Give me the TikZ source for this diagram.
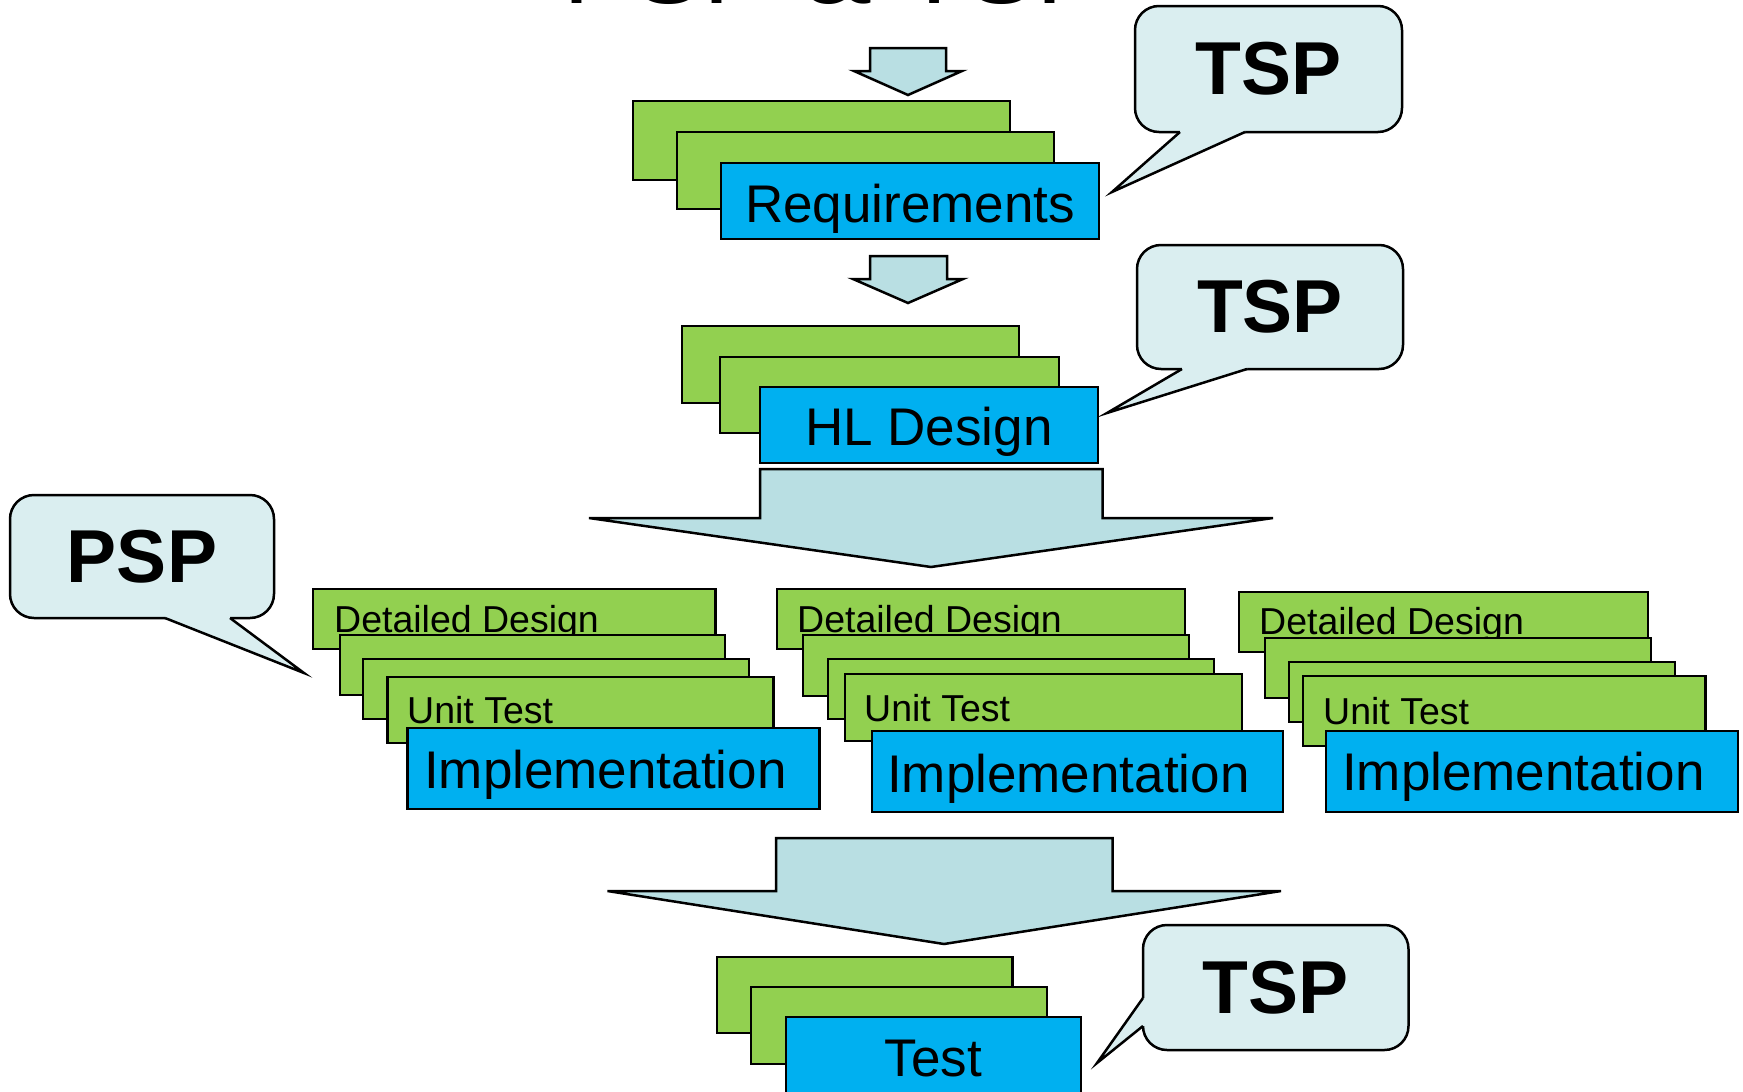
\documentclass[tikz,border=0pt]{standalone}
\usepackage{fontspec}
\setmainfont{Liberation Sans}
\definecolor{grn}{RGB}{146,208,80}
\definecolor{blu}{RGB}{0,176,240}
\definecolor{arr}{RGB}{185,223,227}
\definecolor{cal}{RGB}{218,238,240}
\tikzset{
  gbox/.style={draw=black, fill=grn, line width=2.5pt, inner sep=0pt, outer sep=0pt, anchor=north west},
  bbox/.style={draw=black, fill=blu, line width=2.5pt, inner sep=0pt, outer sep=0pt, anchor=north west},
  bigtxt/.style={inner sep=0pt, font=\fontsize{53}{60}\selectfont},
  smalltxt/.style={anchor=base west, inner sep=0pt, font=\fontsize{37.5}{42}\selectfont},
  blockarrow/.style={draw=black, fill=arr, line width=2.5pt},
  callout/.style={draw=black, fill=cal, line width=2.5pt, rounded corners=24pt, inner sep=0pt, font=\bfseries\fontsize{75}{80}\selectfont},
  tailline/.style={draw=black, line width=2.5pt},
}
% box by corners with centred text on a given baseline: name, x1, y1, x2, y2, baseline, text
\newcommand\bx[7]{\node[bbox, minimum width={(#4-#2)*1pt}, minimum height={(#5-#3)*1pt}] (#1) at (#2,#3) {};
  \node[bigtxt, anchor=base] (#1t) at ({(#2+#4)/2},#6) {#7};}
\newcommand\gbx[5]{\node[gbox, minimum width={(#4-#2)*1pt}, minimum height={(#5-#3)*1pt}] (#1) at (#2,#3) {};}
\newcommand\cbx[6]{\node[callout, minimum width={(#4-#2)*1pt}, minimum height={(#5-#3)*1pt}] (#1) at ({(#2+#4)/2},{(#3+#5)/2}) {#6};}
\begin{document}
\begin{tikzpicture}[x=1pt,y=-1pt]
\useasboundingbox (0,0) rectangle (1743,1092);
\fill[white] (0,0) rectangle (1743,1092);

% title (cut off at the top)
\node[anchor=base, inner sep=0pt, font=\fontsize{105}{110}\selectfont] (title) at (835,4) {PSP \& TSP};

% block arrows
\draw[blockarrow] (870,48) -- (946,48) -- (946,71) -- (962,71) -- (908,95) -- (854,71) -- (870,71) -- cycle;
\draw[blockarrow] (870,256) -- (947,256) -- (947,279) -- (963,279) -- (908,303) -- (853,279) -- (870,279) -- cycle;
\draw[blockarrow] (760,469) -- (1102.5,469) -- (1102.5,518) -- (1273,518) -- (931,567) -- (589,518) -- (760,518) -- cycle;
\draw[blockarrow] (776,838) -- (1112.5,838) -- (1112.5,891) -- (1281,891) -- (944,944) -- (607.5,891) -- (776,891) -- cycle;

% Requirements stack
\gbx{r1}{633}{101}{1010}{180}
\gbx{r2}{677}{132}{1054}{209}
\bx{req}{721}{163}{1099}{239}{222}{Requirements}

% HL Design stack
\gbx{h1}{682}{326}{1019}{403}
\gbx{h2}{720}{357}{1059}{433}
\bx{hld}{760}{387}{1098}{463}{445}{HL Design}

% left cluster
\gbx{la}{313}{589}{715.5}{649}
\node[smalltxt] (lat) at (334,632) {Detailed Design};
\gbx{lb}{340}{635}{725}{695}
\gbx{lc}{363}{659}{749}{719}
\gbx{ld}{387.5}{677}{773.5}{743}
\node[smalltxt] (ldt) at (407,723) {Unit Test};
\node[bbox, minimum width=412pt, minimum height=81pt] (li) at (407.6,728) {};
\node[anchor=base west, bigtxt] (lit) at (424,788) {Implementation};

% middle cluster
\gbx{ma}{777}{589}{1185}{649}
\node[smalltxt] (mat) at (797,632) {Detailed Design};
\gbx{mb}{803}{635}{1189}{696}
\gbx{mc}{828}{659}{1214}{719}
\gbx{md}{845}{674}{1242}{741}
\node[smalltxt] (mdt) at (864,721) {Unit Test};
\node[bbox, minimum width=411pt, minimum height=81pt] (mi) at (872,731) {};
\node[anchor=base west, bigtxt] (mit) at (887,792) {Implementation};

% right cluster
\gbx{ra}{1239}{592}{1648}{652}
\node[smalltxt] (rat) at (1259,634) {Detailed Design};
\gbx{rb}{1265}{638}{1651}{698}
\gbx{rc}{1289}{662}{1675}{722}
\gbx{rd}{1303}{676}{1705.5}{746}
\node[smalltxt] (rdt) at (1323,724) {Unit Test};
\node[bbox, minimum width=412pt, minimum height=81pt] (ri) at (1326,731) {};
\node[anchor=base west, bigtxt] (rit) at (1342,790) {Implementation};

% Test stack
\gbx{t1}{717}{957}{1012.5}{1033}
\gbx{t2}{751}{987}{1047}{1064}
\bx{tst}{786}{1017}{1081}{1099}{1076}{Test}

% callouts
\cbx{c1}{1135}{6}{1402}{132}{TSP}
\coordinate (c1tip) at (1112,192);
\fill[cal] (1180,128) -- (1180,132) -- (c1tip) -- (1245,132) -- (1245,128) -- cycle;
\draw[tailline] (1180,132) -- (c1tip) -- (1245,132);

\cbx{c2}{1137}{245}{1403}{369}{TSP}
\coordinate (c2tip) at (1107,413);
\fill[cal] (1182,365) -- (1182,369) -- (c2tip) -- (1247,369) -- (1247,365) -- cycle;
\draw[tailline] (1182,369) -- (c2tip) -- (1247,369);

\cbx{c3}{10}{495}{274}{618}{PSP}
\coordinate (c3tip) at (304,673);
\fill[cal] (165,614) -- (165,618) -- (c3tip) -- (230,618) -- (230,614) -- cycle;
\draw[tailline] (165,618) -- (c3tip) -- (230,618);

\cbx{c4}{1143}{925}{1408.5}{1050}{TSP}
\coordinate (c4tip) at (1097,1063);
\fill[cal] (1147,998) -- (1143,998) -- (c4tip) -- (1143,1026) -- (1147,1026) -- cycle;
\draw[tailline] (1143,998) -- (c4tip) -- (1143,1026);
\end{tikzpicture}
\end{document}
